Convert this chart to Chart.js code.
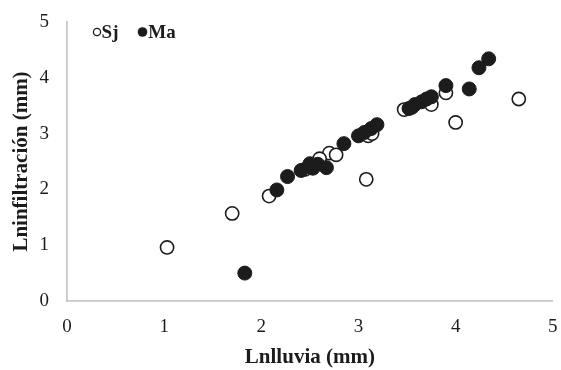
<!DOCTYPE html>
<html>
<head>
<meta charset="utf-8">
<script src="https://cdn.jsdelivr.net/npm/chart.js@4/dist/chart.umd.min.js"></script>
<style>
  body { margin: 0; background: #fff; }
  #wrap { width: 561px; height: 370px; }
</style>
</head>
<body>
<div id="wrap"><canvas id="scatterChart" width="561" height="370"></canvas></div>
<script>
// Sj (círculos abiertos)
var sjX = [1.03, 1.70, 2.08, 3.08, 2.70, 2.77, 2.60, 2.45, 3.10, 3.14, 3.47, 3.55, 3.75, 3.90, 4.00, 4.65];
var sjY = [0.96, 1.57, 1.88, 2.18, 2.65, 2.62, 2.55, 2.36, 2.96, 3.00, 3.43, 3.47, 3.52, 3.73, 3.20, 3.62];

// Ma (círculos rellenos)
var maX = [1.83, 2.16, 2.27, 2.41, 2.50, 2.53, 2.58, 2.67, 2.85, 3.00, 3.06, 3.13, 3.19, 3.52, 3.58, 3.65, 3.70, 3.75, 3.90, 4.14, 4.24, 4.34];
var maY = [0.50, 1.99, 2.23, 2.34, 2.46, 2.38, 2.45, 2.39, 2.82, 2.96, 3.02, 3.09, 3.16, 3.45, 3.52, 3.57, 3.62, 3.66, 3.86, 3.80, 4.18, 4.34];

var axisTicks = [0, 1, 2, 3, 4, 5];

function toPoints(xs, ys) {
    return xs.map((x, i) => ({ x: x, y: ys[i] }));
}

var serif = "'Liberation Serif', 'Times New Roman', serif";
var ink = '#1c1c1c';

// leyenda dentro del área del gráfico, en una sola fila
var inlineLegend = {
    id: 'inlineLegend',
    afterDraw: function (chart) {
        var c = chart.ctx;
        var area = chart.chartArea;
        var y = area.top + 10;
        var x = area.left + 30;
        c.save();
        c.font = 'bold 19px ' + serif;
        c.textBaseline = 'middle';
        c.fillStyle = ink;
        chart.data.datasets.forEach(function (ds, i) {
            var r = i == 0 ? 3.6 : 4.8;
            c.beginPath();
            c.arc(x, y, r, 0, Math.PI * 2);
            if (i == 0) {
                c.fillStyle = '#fff';
                c.fill();
                c.lineWidth = 1.3;
                c.strokeStyle = ink;
                c.stroke();
            } else {
                c.fillStyle = ink;
                c.fill();
            }
            c.fillStyle = ink;
            c.fillText(ds.label, x + r + 1, y + 1);
            x += c.measureText(ds.label).width + r + 25;
        });
        c.restore();
    }
};

var data = {
    datasets: [
        {
            label: 'Sj',
            data: toPoints(sjX, sjY),
            pointRadius: 6.6,
            pointHoverRadius: 6.6,
            pointBorderWidth: 1.6,
            borderColor: ink,
            backgroundColor: '#ffffff',
            order: 2
        },
        {
            label: 'Ma',
            data: toPoints(maX, maY),
            pointRadius: 7,
            pointHoverRadius: 7,
            pointBorderWidth: 1,
            borderColor: ink,
            backgroundColor: ink,
            order: 1
        }
    ]
};

function noScalePadding(axis) {
    axis.paddingLeft = 0;
    axis.paddingRight = 0;
    axis.paddingTop = 0;
    axis.paddingBottom = 0;
}

var options = {
    responsive: false,
    animation: false,
    layout: { padding: { left: 9, right: 8, top: 22, bottom: 0 } },
    plugins: {
        legend: { display: false },
        tooltip: { enabled: false }
    },
    scales: {
        x: {
            type: 'linear',
            min: 0,
            max: 5,
            afterBuildTicks: function (axis) { axis.ticks = axisTicks.map(v => ({ value: v })); },
            afterFit: function (axis) { axis.height = 69; noScalePadding(axis); },
            grid: { display: false, drawTicks: false },
            border: { display: true, color: '#c8c8c8', width: 1.8 },
            ticks: { padding: 15, color: ink, font: { family: serif, size: 19 } },
            title: {
                display: true,
                text: 'Lnlluvia (mm)',
                color: ink,
                padding: { top: 0, bottom: 0 },
                font: { family: serif, size: 21, weight: 'bold' }
            }
        },
        y: {
            type: 'linear',
            min: 0,
            max: 5,
            afterBuildTicks: function (axis) { axis.ticks = axisTicks.map(v => ({ value: v })); },
            afterFit: function (axis) { axis.width = 58; noScalePadding(axis); },
            grid: { display: false, drawTicks: false },
            border: { display: true, color: '#c8c8c8', width: 1.8 },
            ticks: { padding: 18, color: ink, font: { family: serif, size: 19 } },
            title: {
                display: true,
                text: 'Lninfiltración (mm)',
                color: ink,
                padding: { top: 0, bottom: 0 },
                font: { family: serif, size: 21, weight: 'bold' }
            }
        }
    }
};

var ctx = document.getElementById('scatterChart').getContext('2d');
var scatterChart = new Chart(ctx, {
    type: 'scatter',
    data: data,
    options: options,
    plugins: [inlineLegend]
});
</script>
</body>
</html>
